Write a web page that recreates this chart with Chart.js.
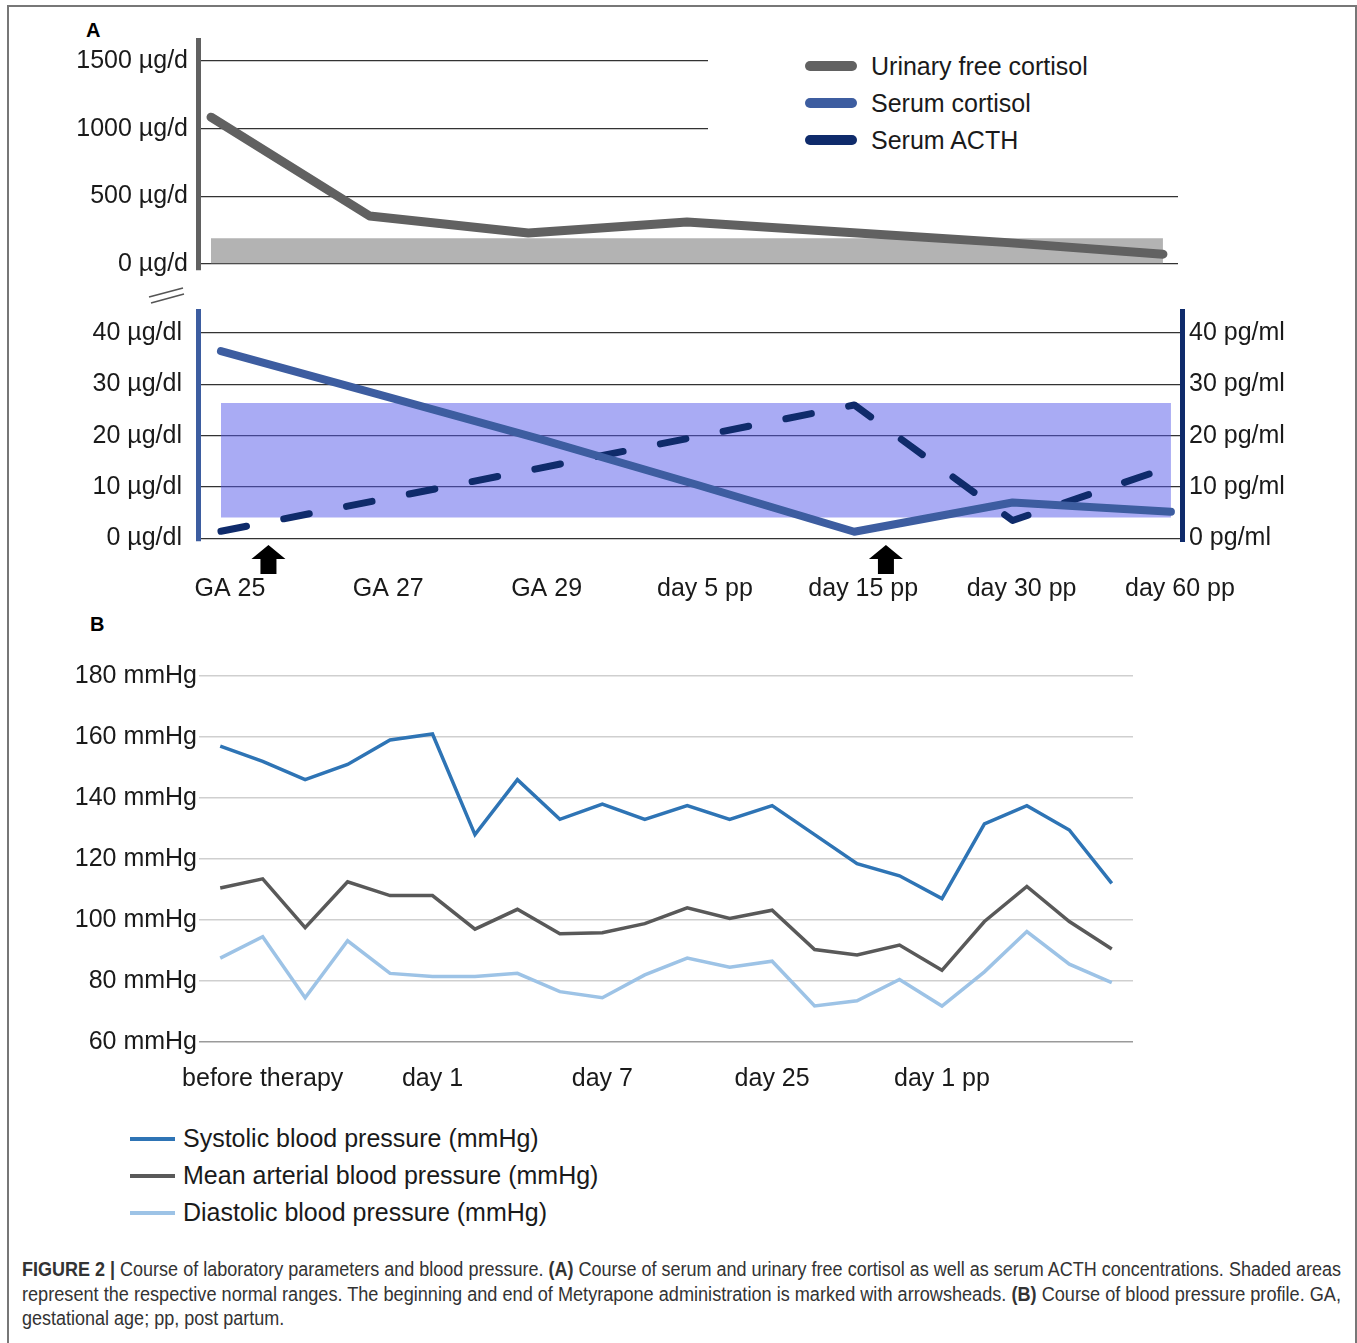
<!DOCTYPE html>
<html>
<head>
<meta charset="utf-8">
<script src="https://cdn.jsdelivr.net/npm/chart.js@4.4.1/dist/chart.umd.min.js"></script>
<style>
  body { margin: 0; background: #fff; width: 1357px; height: 1343px; position: relative; overflow: hidden;
         font-family: "Liberation Sans", Arial, sans-serif; color: #1a1a1a; }
  .abs { position: absolute; }
  .frame { left: 7px; top: 5px; width: 1346px; height: 1400px; border: 2px solid #777; border-bottom: none; }
  .panel { font-weight: bold; font-size: 20px; color: #000; }
  .legA { left: 708px; top: 44px; width: 470px; height: 125px; background: #fff; }
  .legA .row, .legB .row { position: absolute; white-space: nowrap; font-size: 25px; line-height: 30px; }
  .legA .sw { position: absolute; left: 97px; top: 10px; width: 52px; height: 10px; border-radius: 5px; }
  .legA .tx { position: absolute; left: 163px; top: 0; }
  .legB .sw { position: absolute; left: 0; top: 14px; width: 45px; height: 4px; }
  .legB .tx { position: absolute; left: 53px; top: 0; }
  .caption { left: 22px; top: 1257px; width: 1319px; font-family: "Liberation Sans Narrow", "Liberation Sans", Arial, sans-serif;
             font-size: 19.5px; color: #333; line-height: 24.5px; }
  .caption div { white-space: nowrap; transform-origin: 0 50%; }
</style>
</head>
<body>
<div class="abs frame"></div>
<div class="abs panel" style="left:86px; top:19px;">A</div>
<div class="abs panel" style="left:90px; top:613px;">B</div>

<div class="abs" style="left:0; top:0; width:1357px; height:295px;"><canvas id="ufcChart"></canvas></div>
<div class="abs" style="left:0; top:280px; width:1357px; height:340px;"><canvas id="serumChart"></canvas></div>
<div class="abs" style="left:0; top:640px; width:1357px; height:460px;"><canvas id="bpChart"></canvas></div>

<!-- axis break mark -->
<svg class="abs" style="left:140px; top:280px;" width="60" height="30">
  <line x1="9" y1="17" x2="43" y2="8" stroke="#555" stroke-width="1.6"/>
  <line x1="11" y1="23" x2="44" y2="14" stroke="#555" stroke-width="1.6"/>
</svg>

<div class="abs legA" id="legendA"></div>
<div class="abs legB" id="legendB" style="left:130px; top:1123px;"></div>

<div class="abs caption" id="caption">
  <div><b>FIGURE 2 |</b> Course of laboratory parameters and blood pressure. <b>(A)</b> Course of serum and urinary free cortisol as well as serum ACTH concentrations. Shaded areas</div>
  <div>represent the respective normal ranges. The beginning and end of Metyrapone administration is marked with arrowsheads. <b>(B)</b> Course of blood pressure profile. GA,</div>
  <div>gestational age; pp, post partum.</div>
</div>

<script>
// --- panel A data ---
const gaLabels = ['GA 25', 'GA 27', 'GA 29', 'day 5 pp', 'day 15 pp', 'day 30 pp', 'day 60 pp'];
const urinaryCortisol = [1085, 355, 230, 310, 235, 160, 73];      // µg/d
const urinaryNormal = [0, 190];                                   // µg/d
const ufcTicks = [0, 500, 1000, 1500];
const serumCortisol = [36.5, 28, 19.5, 10.5, 1.3, 7, 5.2];        // µg/dl
const serumActh = [1.4, 7.5, 13.6, 19.8, 26, 3.5, 14];            // pg/ml
const serumNormal = [4.1, 26.4];
const serumTicks = [0, 10, 20, 30, 40];
const metyraponeMarks = [0.3, 4.2];   // start / end, in GA category units

// --- panel B data ---
const bpLabels = ['', 'before therapy', '', '', '', 'day 1', '', '', '', 'day 7', '', '',
                  '', 'day 25', '', '', '', 'day 1 pp', '', '', '', ''];
const systolic = [157, 152, 146, 151, 159, 161, 128, 146, 133, 138, 133,
                  137.5, 133, 137.5, 128, 118.5, 114.5, 107, 131.5, 137.5, 129.5, 112];
const meanArterial = [110.5, 113.5, 97.5, 112.5, 108, 108, 97, 103.5, 95.5, 95.8, 98.8,
                      104, 100.5, 103.2, 90.3, 88.5, 91.8, 83.5, 99.5, 111, 99.5, 90.5];
const diastolic = [87.5, 94.5, 74.5, 93.2, 82.5, 81.5, 81.5, 82.5, 76.5, 74.5, 82,
                   87.5, 84.5, 86.5, 71.8, 73.5, 80.5, 71.8, 83, 96.2, 85.5, 79.5];

const colUfc = '#616161', colCort = '#3d5da0', colActh = '#0f2b6b';
const colSys = '#2e74b5', colMean = '#595959', colDia = '#9dc3e6';

Chart.defaults.font.family = '"Liberation Sans", Arial, sans-serif';
Chart.defaults.font.size = 25;
Chart.defaults.color = '#1a1a1a';
Chart.defaults.animation = false;
Chart.defaults.plugins.legend.display = false;
Chart.defaults.plugins.tooltip.enabled = false;

const xy = arr => arr.map((v, i) => ({ x: i, y: v }));
const band = (lo, hi, n) => ({ data: [{ x: 0, y: hi }, { x: n - 1, y: hi }], fill: { value: lo } });

// arrows below the axis for metyrapone start / end
const arrowPlugin = {
  id: 'arrows',
  afterDraw(chart) {
    const ctx = chart.ctx, xs = chart.scales.x, top = chart.chartArea.bottom + 4;
    ctx.save();
    ctx.fillStyle = '#000';
    metyraponeMarks.forEach(v => {
      const cx = xs.getPixelForValue(v);
      ctx.beginPath();
      ctx.moveTo(cx, top);
      ctx.lineTo(cx + 17, top + 14);
      ctx.lineTo(cx + 8, top + 14);
      ctx.lineTo(cx + 8, top + 29);
      ctx.lineTo(cx - 8, top + 29);
      ctx.lineTo(cx - 8, top + 14);
      ctx.lineTo(cx - 17, top + 14);
      ctx.closePath();
      ctx.fill();
    });
    ctx.restore();
  }
};

// --- A, top: urinary free cortisol ---
const ufcBand = band(urinaryNormal[0], urinaryNormal[1], gaLabels.length);
new Chart(document.getElementById('ufcChart'), {
  type: 'line',
  data: {
    datasets: [
      { data: xy(urinaryCortisol), borderColor: colUfc, borderWidth: 9, pointRadius: 0,
        borderCapStyle: 'round', borderJoinStyle: 'round' },
      { data: ufcBand.data, fill: ufcBand.fill, backgroundColor: 'rgba(103,103,103,0.5)',
        borderWidth: 0, pointRadius: 0 }
    ]
  },
  options: {
    responsive: true, maintainAspectRatio: false,
    layout: { padding: { top: 40, bottom: 10, right: 179, left: 0 } },
    scales: {
      x: { type: 'linear', min: -0.082, max: 6.095, display: false },
      y: {
        min: -44, max: 1655,
        afterBuildTicks: s => { s.ticks = ufcTicks.map(v => ({ value: v })); },
        afterFit: s => { s.width = 198; },
        ticks: { padding: 10, callback: v => v + ' µg/d' },
        grid: { color: '#333', lineWidth: 1.3, drawTicks: false },
        border: { display: true, color: colUfc, width: 5 }
      }
    }
  }
});

// --- A, bottom: serum cortisol + ACTH ---
const serumBand = band(serumNormal[0], serumNormal[1], gaLabels.length);
new Chart(document.getElementById('serumChart'), {
  type: 'line',
  data: {
    datasets: [
      { data: xy(serumCortisol), yAxisID: 'y', borderColor: colCort, borderWidth: 8, pointRadius: 0,
        borderCapStyle: 'round', borderJoinStyle: 'round' },
      { data: xy(serumActh), yAxisID: 'y2', borderColor: colActh, borderWidth: 7, pointRadius: 0,
        borderDash: [26, 38], borderCapStyle: 'round', borderJoinStyle: 'round' },
      { data: serumBand.data, yAxisID: 'y', fill: serumBand.fill, backgroundColor: 'rgba(83,87,233,0.5)',
        borderWidth: 0, pointRadius: 0 }
    ]
  },
  options: {
    responsive: true, maintainAspectRatio: false,
    layout: { padding: { top: 9, bottom: 0, left: 0, right: 0 } },
    scales: {
      x: {
        type: 'linear', min: -0.145, max: 6.07,
        afterBuildTicks: s => { s.ticks = gaLabels.map((_, i) => ({ value: i })); },
        afterFit: s => { s.height = 79; },
        ticks: { callback: v => gaLabels[v], labelOffset: 9, padding: 25, maxRotation: 0, autoSkip: false },
        grid: { display: false }, border: { display: false }
      },
      y: {
        position: 'left', min: -0.5, max: 44.3,
        afterBuildTicks: s => { s.ticks = serumTicks.map(v => ({ value: v })); },
        afterFit: s => { s.width = 198; },
        ticks: { padding: 16, callback: v => v + ' µg/dl' },
        grid: { color: '#333', lineWidth: 1.3, drawTicks: false },
        border: { display: true, color: colCort, width: 5 }
      },
      y2: {
        position: 'right', min: -0.5, max: 44.3,
        afterBuildTicks: s => { s.ticks = serumTicks.map(v => ({ value: v })); },
        afterFit: s => { s.width = 175; },
        ticks: { padding: 7, callback: v => v + ' pg/ml' },
        grid: { drawOnChartArea: false, drawTicks: false },
        border: { display: true, color: colActh, width: 5 }
      }
    }
  },
  plugins: [arrowPlugin]
});

// --- B: blood pressure ---
new Chart(document.getElementById('bpChart'), {
  type: 'line',
  data: {
    labels: bpLabels,
    datasets: [
      { label: 'Systolic blood pressure (mmHg)', data: systolic, borderColor: colSys, borderWidth: 3.5, pointRadius: 0 },
      { label: 'Mean arterial blood pressure (mmHg)', data: meanArterial, borderColor: colMean, borderWidth: 3.5, pointRadius: 0 },
      { label: 'Diastolic blood pressure (mmHg)', data: diastolic, borderColor: colDia, borderWidth: 3.5, pointRadius: 0 }
    ]
  },
  options: {
    responsive: true, maintainAspectRatio: false,
    layout: { padding: { top: 36, bottom: 0, left: 0, right: 224 } },
    scales: {
      x: {
        offset: true,
        afterFit: s => { s.height = 58; },
        ticks: { autoSkip: false, maxRotation: 0, padding: 14 },
        grid: { display: false }, border: { display: false }
      },
      y: {
        min: 60, max: 180,
        afterFit: s => { s.width = 199; },
        ticks: { stepSize: 20, padding: 2, callback: v => v + ' mmHg' },
        grid: { color: ctx => ctx.tick.value === 60 ? '#9a9a9a' : '#cfcfcf', lineWidth: 1.5, drawTicks: false },
        border: { display: false }
      }
    }
  }
});

// --- legends (HTML) ---
const legA = [['Urinary free cortisol', colUfc], ['Serum cortisol', colCort], ['Serum ACTH', colActh]];
document.getElementById('legendA').innerHTML = legA.map((d, i) =>
  `<div class="row" style="top:${7 + i * 37}px"><span class="sw" style="background:${d[1]}"></span><span class="tx">${d[0]}</span></div>`).join('');
const legB = [['Systolic blood pressure (mmHg)', colSys], ['Mean arterial blood pressure (mmHg)', colMean], ['Diastolic blood pressure (mmHg)', colDia]];
document.getElementById('legendB').innerHTML = legB.map((d, i) =>
  `<div class="row" style="top:${i * 37}px"><span class="sw" style="background:${d[1]}"></span><span class="tx">${d[0]}</span></div>`).join('');

// squeeze caption lines to the column width (condensed look of the original)
const lines = document.querySelectorAll('#caption div');
const fullW = [];
lines.forEach((line, i) => {
  const span = document.createElement('span');
  span.innerHTML = line.innerHTML;
  line.innerHTML = '';
  line.appendChild(span);
  fullW.push(span.getBoundingClientRect().width);
});
const k = 1319 / Math.max(fullW[0], fullW[1]);
lines.forEach((line, i) => {
  const s = i < 2 ? 1319 / fullW[i] : k;
  line.style.transform = 'scaleX(' + s + ')';
});
</script>
</body>
</html>
